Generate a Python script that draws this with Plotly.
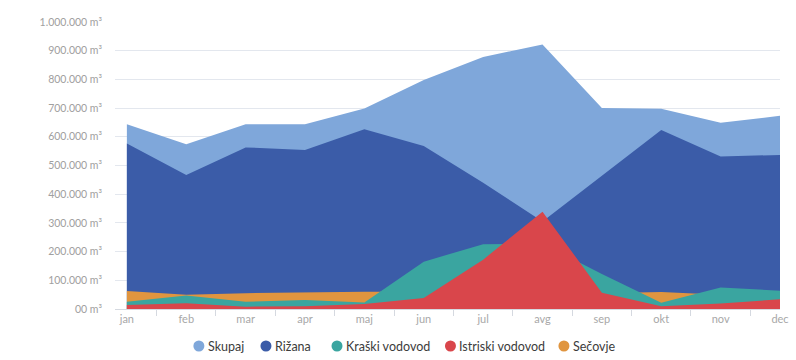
import plotly.graph_objects as go

months = ["jan", "feb", "mar", "apr", "maj", "jun", "jul", "avg", "sep", "okt", "nov", "dec"]

skupaj = [644000, 574000, 644000, 644000, 699000, 798000, 878000, 922000, 700000, 698000, 649000, 673000]
rizana = [577000, 467000, 563000, 554000, 626000, 568000, 440000, 305000, 464000, 624000, 531000, 537000]
secovje = [63000, 50000, 55000, 58000, 60000, 60000, 60000, 55000, 55000, 59000, 50000, 38000]
kraski = [25000, 47000, 25000, 31000, 23000, 165000, 226000, 228000, 122000, 22000, 75000, 64000]
istriski = [14000, 20000, 8000, 10000, 17000, 38000, 172000, 339000, 57000, 10000, 19000, 34000]

names = ["Skupaj", "Rižana", "Kraški vodovod", "Istriski vodovod", "Sečovje"]
colors = {
    "Skupaj": "#7fa7da",
    "Rižana": "#3b5ca8",
    "Kraški vodovod": "#3aa5a0",
    "Istriski vodovod": "#d9464b",
    "Sečovje": "#e0953f",
}
series = {
    "Skupaj": skupaj,
    "Rižana": rizana,
    "Sečovje": secovje,
    "Kraški vodovod": kraski,
    "Istriski vodovod": istriski,
}
draw_order = ["Skupaj", "Rižana", "Sečovje", "Kraški vodovod", "Istriski vodovod"]

ytick_vals = [0, 100000, 200000, 300000, 400000, 500000, 600000, 700000, 800000, 900000, 1000000]
ytick_text = ["00 m³", "100.000 m³", "200.000 m³", "300.000 m³", "400.000 m³", "500.000 m³",
              "600.000 m³", "700.000 m³", "800.000 m³", "900.000 m³", "1.000.000 m³"]

# legend layout (pixel positions of the legend circles)
W, H = 796, 360
ML, MR, MT, MB = 115, 7, 22, 51
legend_px = [200, 268, 340, 455, 570]
legend_py = 346

fig = go.Figure()
for n in draw_order:
    fig.add_trace(go.Scatter(
        x=months, y=series[n], mode="lines", fill="tozeroy",
        line=dict(width=0, color=colors[n]), fillcolor=colors[n],
        showlegend=False, hoverinfo="x+y", name=n,
    ))

pw = W - ML - MR
ph = H - MT - MB
for n, px in zip(names, legend_px):
    xp = (px - ML) / pw
    yp = (H - MB - legend_py) / ph
    fig.add_shape(type="circle", xref="paper", yref="paper",
                  xsizemode="pixel", ysizemode="pixel", xanchor=xp, yanchor=yp,
                  x0=-5.5, x1=5.5, y0=-5.5, y1=5.5,
                  fillcolor=colors[n], line=dict(width=0))
    fig.add_annotation(text=n, xref="paper", yref="paper", x=xp, y=yp,
                       xanchor="left", yanchor="middle", xshift=7, showarrow=False,
                       font=dict(size=12.5, color="#3c3c3c"))

fig.update_layout(
    width=W, height=H,
    margin=dict(l=ML, r=MR, t=MT, b=MB),
    paper_bgcolor="white", plot_bgcolor="white",
    font=dict(family="Lato, sans-serif", color="#444"),
    showlegend=False,
    xaxis=dict(
        type="category", range=[-0.2, 11], tickson="boundaries",
        ticks="outside", ticklen=6, tickcolor="#d5d9e0",
        showline=True, linecolor="#d5d9e0", showgrid=False, zeroline=False,
        tickfont=dict(size=11, color="#a8a8a8"),
    ),
    yaxis=dict(
        range=[0, 1000000], tickvals=ytick_vals, ticktext=ytick_text,
        showgrid=True, gridcolor="#e3e7ee", gridwidth=1, zeroline=False,
        tickfont=dict(size=10.5, color="#a0a0a0"), ticklabelstandoff=12,
    ),
)

fig.write_html("out.html")
